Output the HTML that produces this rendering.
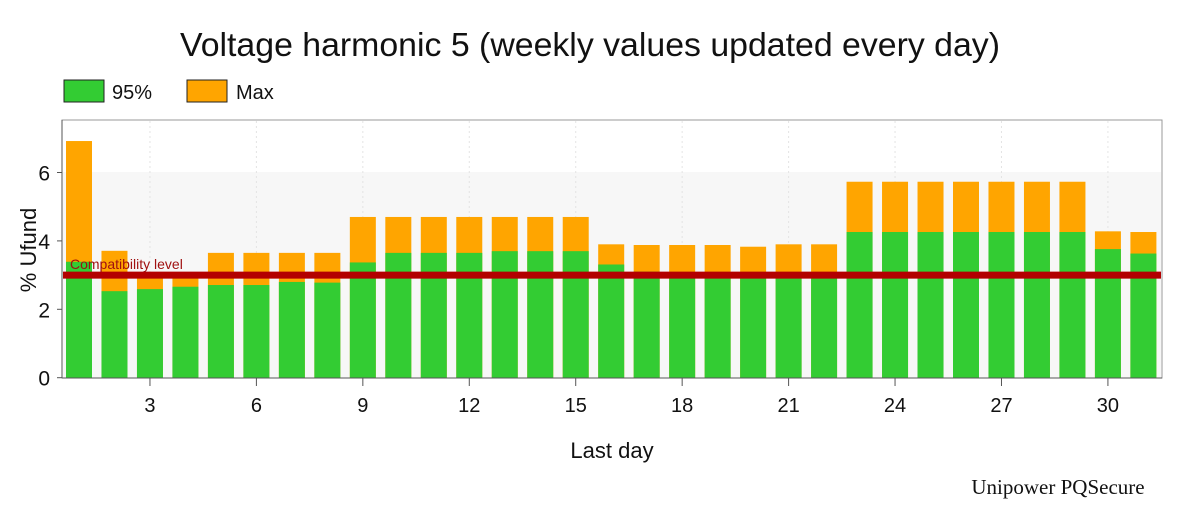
<!DOCTYPE html>
<html><head><meta charset="utf-8"><style>
body{margin:0;background:#fff;width:1178px;height:506px;overflow:hidden;font-family:"Liberation Sans",sans-serif}
</style></head><body>
<svg width="1178" height="506" xmlns="http://www.w3.org/2000/svg">
<text x="590" y="56" font-size="33" text-anchor="middle" textLength="820" lengthAdjust="spacingAndGlyphs" fill="#111">Voltage harmonic 5 (weekly values updated every day)</text>
<g>
<rect x="64" y="80" width="40" height="22" fill="#33cc33" stroke="#222"/>
<text x="112" y="99" font-size="20" fill="#111">95%</text>
<rect x="187" y="80" width="40" height="22" fill="#ffa500" stroke="#222"/>
<text x="236" y="99" font-size="20" fill="#111">Max</text>
</g>
<rect x="62" y="120" width="1100" height="258" fill="#fff" stroke="#999"/>
<rect x="63" y="172" width="1098" height="206" fill="#f7f7f7"/>
<g id="grid"></g>
<g id="bars"></g>
<g id="axes"></g>
<text x="612" y="458" font-size="22" text-anchor="middle" fill="#111">Last day</text>
<text transform="translate(36,250) rotate(-90)" font-size="22" text-anchor="middle" fill="#111">% Ufund</text>
<text x="1058" y="494" font-size="21" text-anchor="middle" fill="#111" font-family="Liberation Serif, serif">Unipower PQSecure</text>
</svg>
<script>
const days=[1,2,3,4,5,6,7,8,9,10,11,12,13,14,15,16,17,18,19,20,21,22,23,24,25,26,27,28,29,30,31];
const p95=[3.39,2.53,2.59,2.66,2.71,2.71,2.8,2.78,3.37,3.65,3.65,3.65,3.7,3.7,3.7,3.31,3.1,3.0,2.9,2.9,2.9,2.9,4.26,4.26,4.26,4.26,4.26,4.26,4.26,3.76,3.63];
const pmax=[6.92,3.71,3.0,3.0,3.65,3.65,3.65,3.65,4.7,4.7,4.7,4.7,4.7,4.7,4.7,3.9,3.88,3.88,3.88,3.83,3.9,3.9,5.73,5.73,5.73,5.73,5.73,5.73,5.73,4.28,4.26];
const yTicks=[0,2,4,6];
const xTicks=[3,6,9,12,15,18,21,24,27,30];
const compat=3.0;
const NS="http://www.w3.org/2000/svg";
const xS=d=>79+(d-1)*35.48;
const yS=v=>377.7-v*34.2;
const bw=26;
function mk(parent,tag,attrs){const e=document.createElementNS(NS,tag);for(const k in attrs)e.setAttribute(k,attrs[k]);document.getElementById(parent).appendChild(e);return e;}
xTicks.forEach(t=>{
  const g=mk('grid','line',{x1:xS(t),x2:xS(t),y1:121,y2:377,stroke:'#e4e4e4','stroke-dasharray':'2,3'});
  
  
});
days.forEach((d,i)=>{
  const m=mk('bars','rect',{x:xS(d)-bw/2,y:yS(pmax[i]),width:bw,height:yS(0)-yS(pmax[i]),fill:'#ffa500'});
  
  
  const g=mk('bars','rect',{x:xS(d)-bw/2,y:yS(p95[i]),width:bw,height:yS(0)-yS(p95[i]),fill:'#33cc33'});
  
  
});
const cl=mk('bars','line',{x1:63,x2:1161,y1:yS(compat),y2:yS(compat),stroke:'#b30000','stroke-width':7});


const ct=mk('bars','text',{x:70,y:yS(compat)-6,'font-size':14,fill:'#a01010'});
ct.textContent='Compatibility level';


mk('axes','line',{x1:62,x2:1162,y1:378,y2:378,stroke:'#555'});
mk('axes','line',{x1:62,x2:62,y1:120,y2:378,stroke:'#555'});
yTicks.forEach(t=>{
  mk('axes','line',{x1:57,x2:62,y1:yS(t),y2:yS(t),stroke:'#555'});
  const l=mk('axes','text',{x:50,y:yS(t)+8,'font-size':21,'text-anchor':'end',fill:'#111'});
  l.textContent=t;
  
  
});
xTicks.forEach(t=>{
  mk('axes','line',{x1:xS(t),x2:xS(t),y1:378,y2:386,stroke:'#555'});
  const l=mk('axes','text',{x:xS(t),y:412,'font-size':20,'text-anchor':'middle',fill:'#111'});
  l.textContent=t;
  
  
});
</script>
</body></html>
